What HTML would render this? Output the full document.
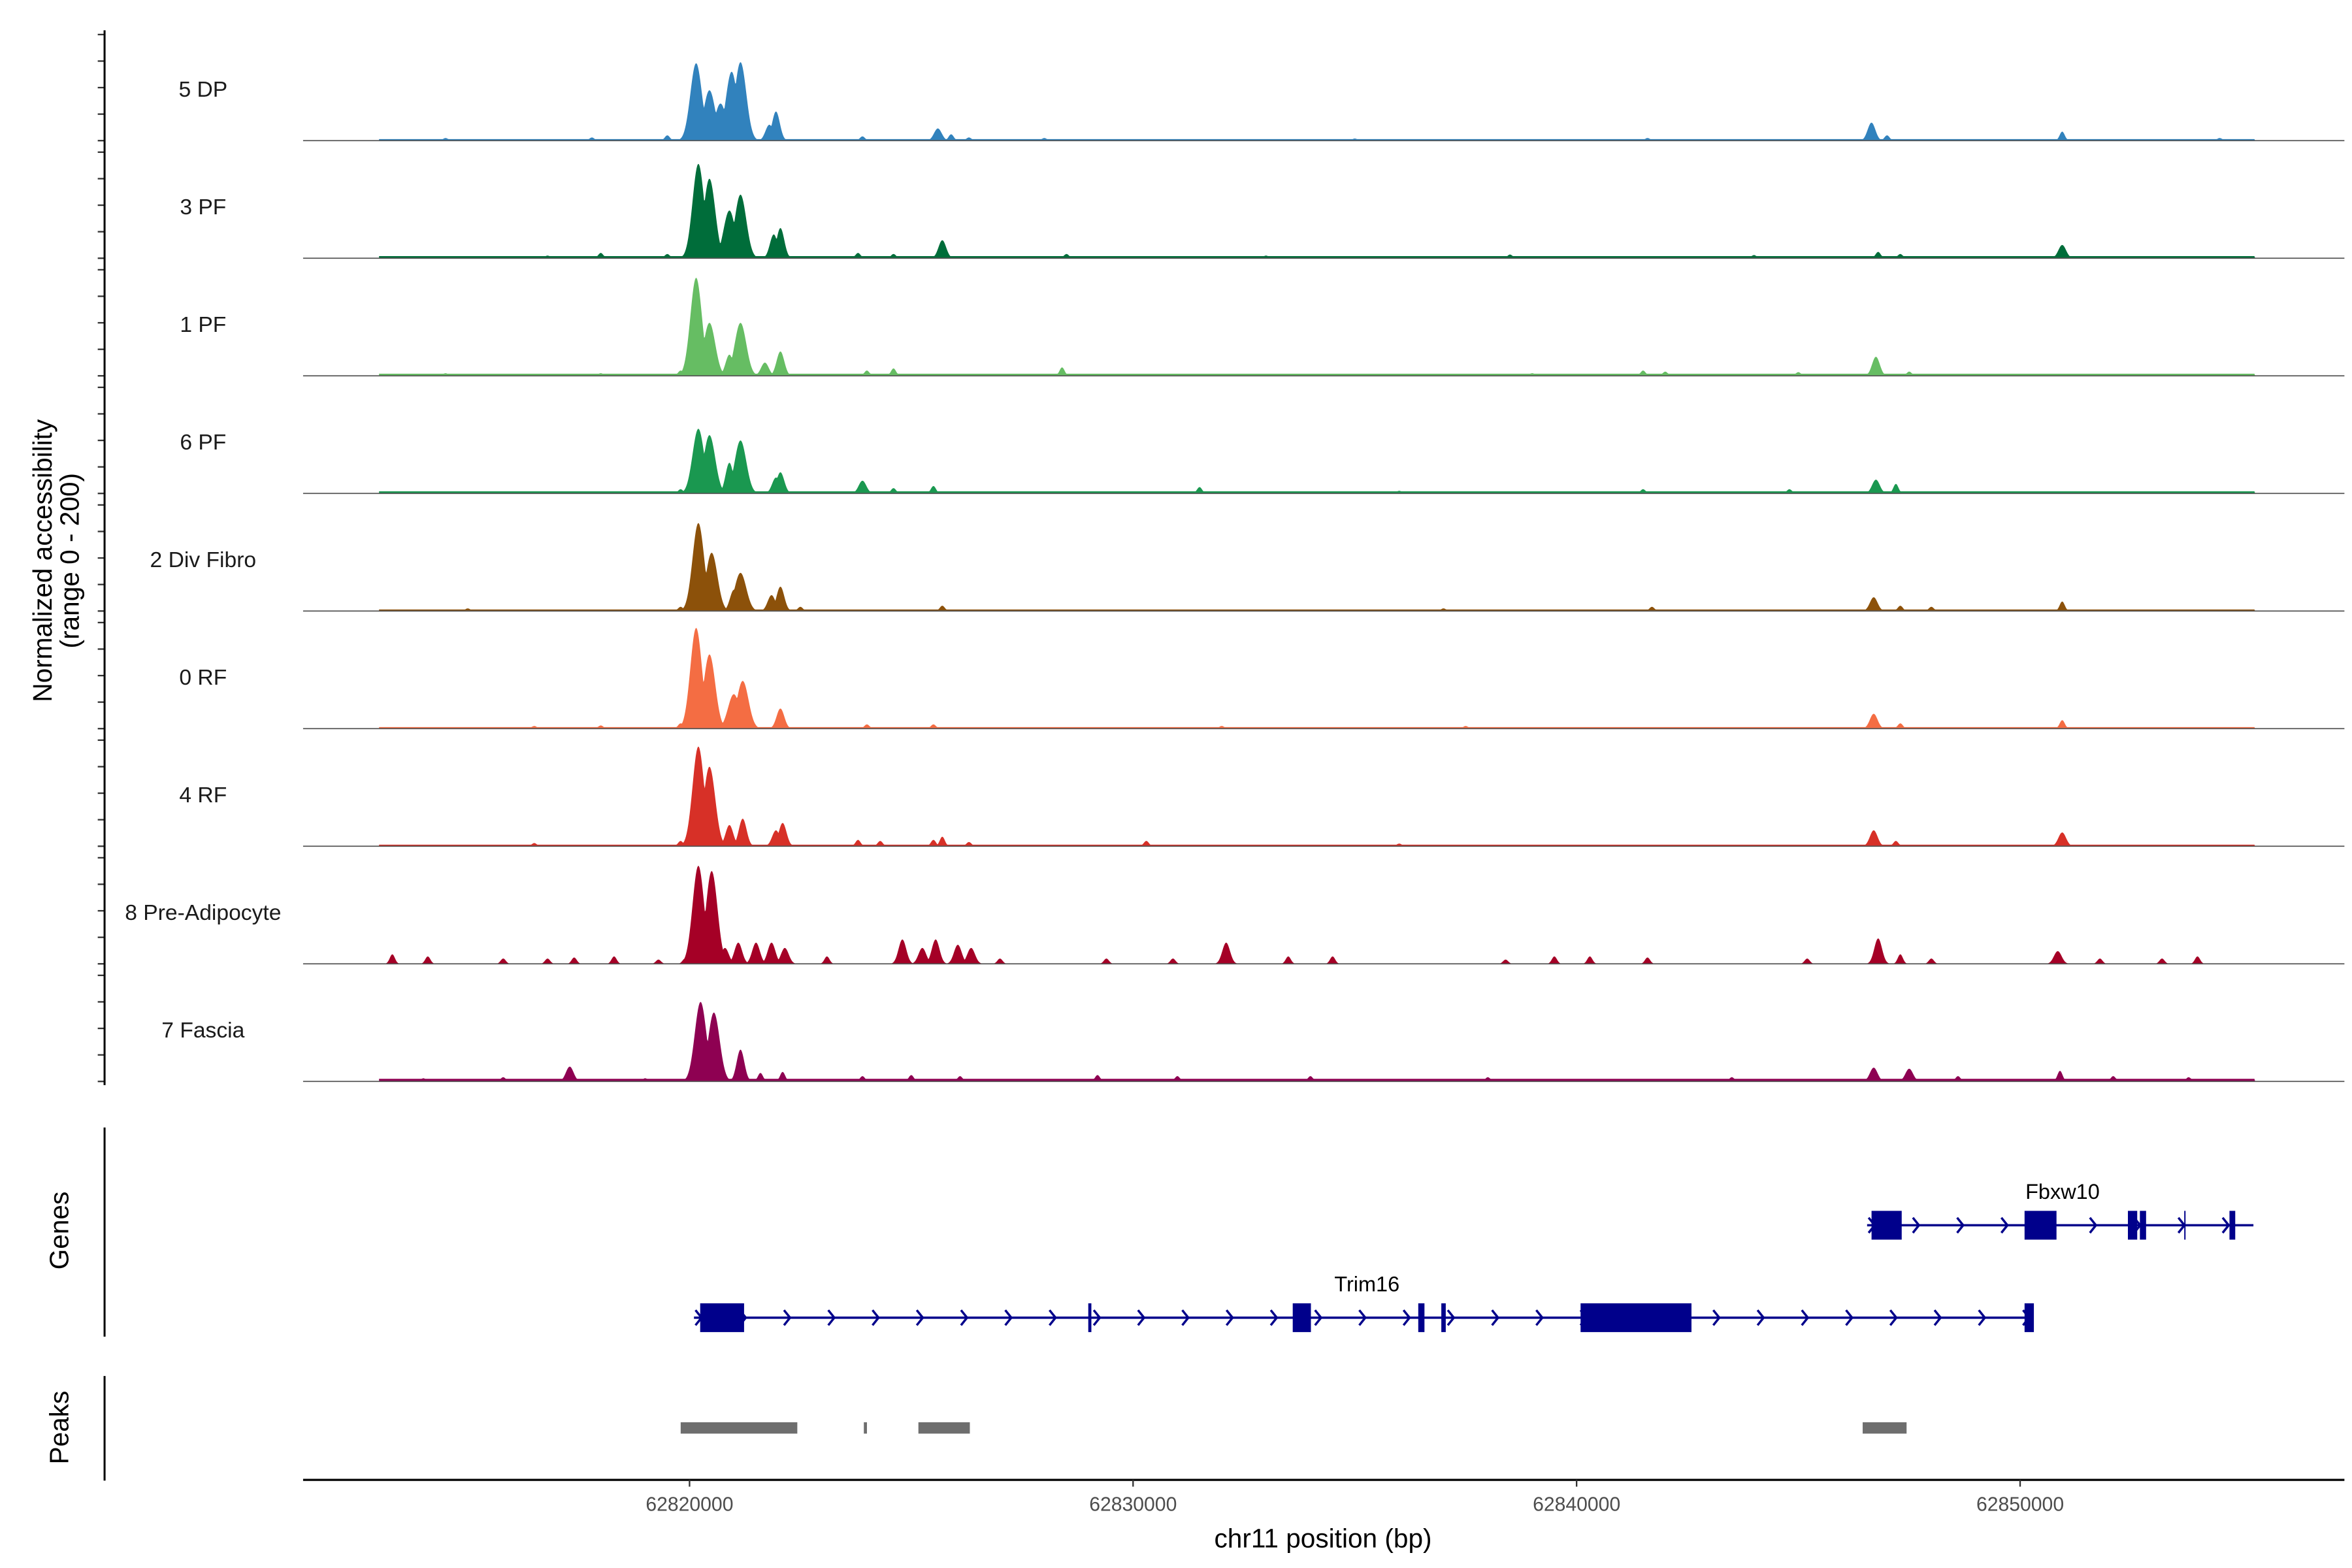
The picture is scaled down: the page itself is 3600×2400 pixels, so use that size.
<!DOCTYPE html>
<html><head><meta charset="utf-8"><style>
html,body{margin:0;padding:0;background:#fff}
svg{display:block}
text{font-family:"Liberation Sans",sans-serif}
</style></head><body>
<svg id="chart" width="3600" height="2400" viewBox="0 0 1552 1034.67" xmlns="http://www.w3.org/2000/svg">
<g id="tracks"></g>
<g id="left"></g>
<g id="genes"></g>
<g id="peaks"></g>
<g id="xaxis"></g>
</svg>
<script>
// ---- data ----
const trackNames = ["5 DP","3 PF","1 PF","6 PF","2 Div Fibro","0 RF","4 RF","8 Pre-Adipocyte","7 Fascia"];
const trackColors = ["#3182bd","#006d3a","#66bd63","#1a9850","#8c510a","#f46d43","#d73027","#a50026","#8e0152"];
const trackFloor = [3,4,4,4,3,3,3,0,5];
// peak centres (bp) per track
const pos0 = [62814500,62817800,62819500,62820150,62820450,62820700,62820950,62821150,62821800,62821950,62823900,62825600,62825900,62826300,62828000,62835000,62841600,62846650,62847000,62850950,62854500];
const val0 = [5,6,10,146,95,70,130,148,30,55,8,23,12,6,5,4,5,34,10,17,5];
const pos1 = [62816800,62818000,62819500,62820200,62820450,62820900,62821150,62821900,62822050,62823800,62824600,62825700,62828500,62833000,62838500,62844000,62846800,62847300,62850950];
const val1 = [5,10,8,178,150,90,120,45,57,10,8,34,8,5,7,6,12,8,25];
const pos2 = [62814500,62818000,62819800,62820150,62820450,62820900,62821150,62821700,62822050,62824000,62824600,62828400,62839000,62841500,62842000,62845000,62846750,62847500];
const val2 = [5,5,10,185,100,40,100,25,46,10,14,16,5,10,8,7,36,8];
const pos3 = [62816500,62819800,62820200,62820450,62820900,62821150,62821950,62822050,62823900,62824600,62825500,62831500,62836000,62841500,62844800,62846750,62847200];
const val3 = [4,8,122,110,58,100,30,40,24,10,14,12,5,8,8,26,18];
const pos4 = [62815000,62819800,62820200,62820500,62821000,62821150,62821850,62822050,62822500,62825700,62837000,62841700,62846700,62847300,62848000,62850950];
const val4 = [5,8,166,110,40,72,30,46,8,10,5,8,26,10,8,18];
const pos5 = [62816500,62818000,62819800,62820150,62820450,62821000,62821200,62822050,62824000,62825500,62832000,62837500,62846700,62847300,62850950];
const val5 = [5,6,10,190,140,65,90,38,8,8,5,5,28,10,16];
const pos6 = [62816500,62819800,62820200,62820450,62820900,62821200,62821950,62822100,62823800,62824300,62825500,62825700,62826300,62830300,62836000,62846700,62847200,62850950];
const val6 = [6,10,188,150,40,52,30,44,12,10,12,18,8,10,5,30,10,26];
const pos7 = [62813300,62814100,62815800,62816800,62817400,62818300,62819300,62819900,62820200,62820500,62820800,62821100,62821500,62821850,62822150,62823100,62824800,62825250,62825550,62826050,62826350,62827000,62829400,62830900,62832100,62833500,62834500,62838400,62839500,62840300,62841600,62845200,62846800,62847300,62848000,62850850,62851800,62853200,62854000];
const val7 = [18,14,10,10,12,14,8,10,185,175,30,40,40,40,30,14,46,30,46,36,30,10,10,10,40,14,14,8,14,14,12,10,48,18,10,24,10,10,14];
const pos8 = [62814000,62815800,62817300,62819000,62820000,62820250,62820550,62821150,62821600,62822100,62823900,62825000,62826100,62829200,62831000,62834000,62838000,62843500,62846700,62847500,62848600,62850900,62852100,62853800];
const val8 = [6,8,28,6,14,150,130,60,16,18,10,12,10,12,10,10,8,8,26,24,10,20,10,8];
const trackPos = [pos0,pos1,pos2,pos3,pos4,pos5,pos6,pos7,pos8];
const trackVal = [val0,val1,val2,val3,val4,val5,val6,val7,val8];
// genes
const fbxwStart = 62846550, fbxwEnd = 62855260;
const fbxwExonStart = [62846650,62850100,62852430,62852700,62853700,62854720];
const fbxwExonEnd   = [62847330,62850820,62852640,62852840,62853730,62854850];
const trimStart = 62820100, trimEnd = 62850280;
const trimExonStart = [62820240,62828990,62833600,62836430,62836950,62840090,62850100];
const trimExonEnd   = [62821230,62829060,62834010,62836570,62837050,62842590,62850310];
const peakStart = [62819800,62823930,62825160,62846450];
const peakEnd   = [62822430,62824000,62826320,62847440];
const xTicks = [62820000,62830000,62840000,62850000];

// ---- scales ----
const NS="http://www.w3.org/2000/svg";
const X0=200,X1=1547;
function xs(bp){return 455+(bp-62820000)/10000*292.67;}
const trackTop0=22.8, trackStep=77.6, trackH=70;
function mk(tag,attrs,parent){const e=document.createElementNS(NS,tag);for(const k in attrs)e.setAttribute(k,attrs[k]);parent.appendChild(e);return e;}

const gT=document.getElementById('tracks');
trackNames.forEach((nm,i)=>{
  const base=trackTop0+i*trackStep+trackH;
  const ys=v=>base-v/200*trackH;
  const g=mk('g',{},gT);
  
  
  const P=trackPos[i],V=trackVal[i];
  const xa=xs(62813000), xb=xs(62855300);
  let d='M'+xa+','+base;
  for(let x=xa;x<=xb;x+=0.5){
    let m=trackFloor[i];
    for(let k=0;k<P.length;k++){
      const w=V[k]>60?9:(V[k]>20?6:4);
      const dd=Math.abs(x-xs(P[k]));
      if(dd<w*2){const f=V[k]*Math.exp(-Math.pow(dd/(w*0.6),2));if(f>m)m=f;}
    }
    d+='L'+x.toFixed(1)+','+ys(m).toFixed(2);
  }
  d+='L'+xb+','+base+'Z';
  const a=mk('path',{d:d,fill:trackColors[i]},g);
  
  
  const bl=mk('line',{x1:X0,x2:X1,y1:base,y2:base,stroke:'#555','stroke-width':0.8},g);
  
  
  const t=mk('text',{x:134,y:trackTop0+i*trackStep+41,'font-size':14.5,'text-anchor':'middle',fill:'#1a1a1a'},g);
  t.textContent=nm;
  
  
  for(let v=0;v<=200;v+=50){
    const tk=mk('line',{x1:64.5,x2:69,y1:ys(v),y2:ys(v),stroke:'#333','stroke-width':1},g);
    
    
  }
});
const gL=document.getElementById('left');
function vline(y1,y2,nm){const l=mk('line',{x1:69,x2:69,y1:y1,y2:y2,stroke:'#000','stroke-width':1.3},gL);}
vline(20,716,'y-axis-line');vline(744,882,'genes-axis-line');vline(908,977,'peaks-axis-line');
function vtext(x,y,lines,nm){const t=mk('text',{transform:`translate(${x},${y}) rotate(-90)`,'font-size':17.5,'text-anchor':'middle',fill:'#000'},gL);
  lines.forEach((s,j)=>{const sp=mk('tspan',{x:0,dy:j?18:0},t);sp.textContent=s;});
  }
vtext(34,370,['Normalized accessibility','(range 0 - 200)'],'y-axis-title');
vtext(45,812,['Genes'],'genes-axis-title');
vtext(45,942,['Peaks'],'peaks-axis-title');

// genes
const gG=document.getElementById('genes');
const navy='#00008b';
function gene(s,e,es,ee,y,label,lx,ly){
  const g=mk('g',{},gG);
  
  
  mk('line',{x1:xs(s),x2:xs(e),y1:y,y2:y,stroke:navy,'stroke-width':1.5},g);
  for(let x=xs(s)+4;x<=xs(e)+1;x+=29.2){
    mk('polyline',{points:`${x-3},${y-5} ${x+1},${y} ${x-3},${y+5}`,fill:'none',stroke:navy,'stroke-width':1.5},g);
  }
  es.forEach((a,k)=>{const w=Math.max(xs(ee[k])-xs(a),0.8);
    const r=mk('rect',{x:xs(a),y:y-9.5,width:w,height:19,fill:navy},g);
    });
  const t=mk('text',{x:lx,y:ly,'font-size':14,'text-anchor':'middle',fill:'#000'},g);
  t.textContent=label;
}
gene(fbxwStart,fbxwEnd,fbxwExonStart,fbxwExonEnd,808.5,'Fbxw10',1361,791);
gene(trimStart,trimEnd,trimExonStart,trimExonEnd,869.5,'Trim16',902,852);

// peaks
const gP=document.getElementById('peaks');
peakStart.forEach((s,k)=>{const r=mk('rect',{x:xs(s),y:938.5,width:Math.max(xs(peakEnd[k])-xs(s),1),height:7.5,fill:'#6e6e6e'},gP);
  });

// x axis
const gX=document.getElementById('xaxis');
const al=mk('line',{x1:X0,x2:X1,y1:976.5,y2:976.5,stroke:'#000','stroke-width':1.4},gX);

xTicks.forEach(v=>{
  const tk=mk('line',{x1:xs(v),x2:xs(v),y1:976.5,y2:981,stroke:'#333','stroke-width':1},gX);
  
  const t=mk('text',{x:xs(v),y:997,'font-size':13,'text-anchor':'middle',fill:'#4d4d4d'},gX);
  t.textContent=String(v);
  
});
const xt=mk('text',{x:873,y:1021,'font-size':17.5,'text-anchor':'middle',fill:'#000'},gX);
xt.textContent='chr11 position (bp)';

</script>
</body></html>
